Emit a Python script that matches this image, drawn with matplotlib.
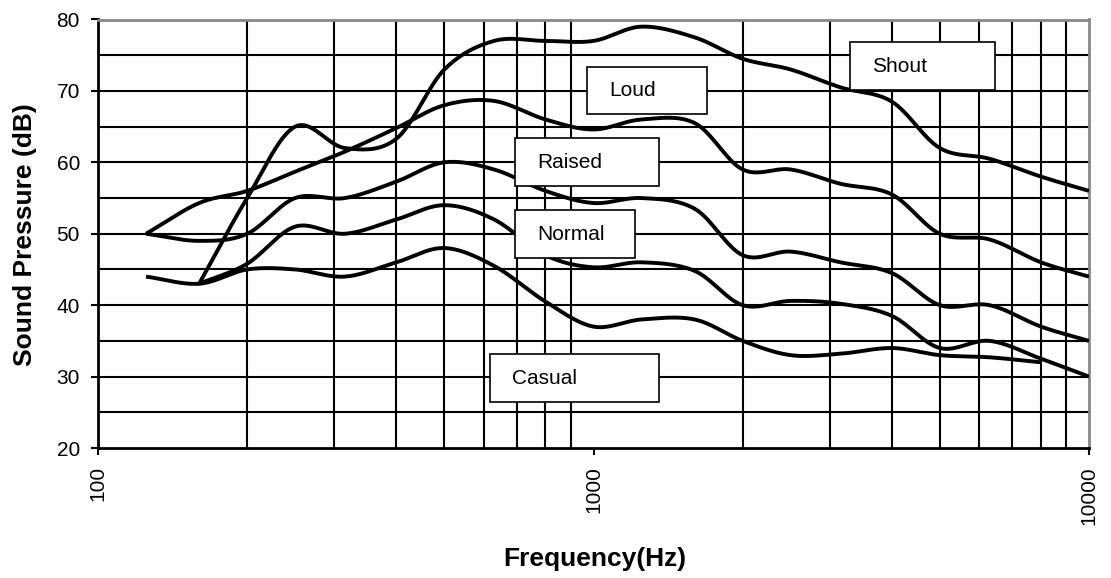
import numpy as np
import matplotlib
matplotlib.use("Agg")
import matplotlib.pyplot as plt
from matplotlib.patches import Rectangle

plt.rcParams['font.family'] = ['Liberation Sans', 'DejaVu Sans']

# ---- data ----
shout_f = [160, 200, 250, 315, 400, 500, 630, 800, 1000, 1250, 1600, 2000, 2500, 3150, 4000, 5000, 6300, 8000, 10000]
shout_db = [43, 55, 65, 62, 63.3, 73, 77, 77, 77, 79, 77.5, 74.5, 73, 70.5, 68.5, 62, 60.5, 58, 56]

loud_f = [125, 160, 200, 250, 315, 400, 500, 630, 800, 1000, 1250, 1600, 2000, 2500, 3150, 4000, 5000, 6300, 8000, 10000]
loud_db = [50, 54.3, 56, 58.7, 61.5, 64.8, 68, 68.6, 66, 64.6, 66, 65.5, 59, 59, 57, 55.5, 50, 49.2, 46, 44]

raised_f = [125, 160, 200, 250, 315, 400, 500, 630, 800, 1000, 1250, 1600, 2000, 2500, 3150, 4000, 5000, 6300, 8000, 10000]
raised_db = [50, 49, 50, 55, 55, 57.3, 60, 59, 56, 54.3, 55, 53.5, 47, 47.5, 46, 44.5, 40, 40, 37, 35]

normal_f = [160, 200, 250, 315, 400, 500, 630, 800, 1000, 1250, 1600, 2000, 2500, 3150, 4000, 5000, 6300, 8000, 10000]
normal_db = [43, 45.8, 51, 50, 52, 54, 52, 47, 45.3, 46, 44.8, 40, 40.6, 40.2, 38.5, 34, 35, 32.5, 30]

casual_f = [125, 160, 200, 250, 315, 400, 500, 630, 800, 1000, 1250, 1600, 2000, 2500, 3150, 4000, 5000, 6300, 8000]
casual_db = [44, 43, 45, 45, 44, 46, 48, 45.5, 40.5, 37, 38, 38, 35, 33, 33.2, 34, 33, 32.7, 32]

label_names = ["Shout", "Loud", "Raised", "Normal", "Casual"]
x_ticks = [100, 1000, 10000]
y_ticks = [20, 30, 40, 50, 60, 70, 80]

W, H = 1111, 578
fig = plt.figure(figsize=(W / 100, H / 100), dpi=100)
ax = fig.add_axes([98 / W, 1 - 448 / H, (1089 - 98) / W, (448 - 19.5) / H])


def smooth(fs, ys, n=20):
    """Catmull-Rom smoothing of the drawn line in (log f, dB) space."""
    x = np.log10(np.asarray(fs, float))
    y = np.asarray(ys, float)
    P = np.column_stack([x, y])
    P = np.vstack([P[0] - (P[1] - P[0]), P, P[-1] + (P[-1] - P[-2])])
    out = []
    for i in range(1, len(P) - 2):
        p0, p1, p2, p3 = P[i - 1], P[i], P[i + 1], P[i + 2]
        t = np.linspace(0, 1, n, endpoint=False)[:, None]
        seg = 0.5 * ((2 * p1) + (-p0 + p2) * t + (2 * p0 - 5 * p1 + 4 * p2 - p3) * t ** 2
                     + (-p0 + 3 * p1 - 3 * p2 + p3) * t ** 3)
        out.append(seg)
    out.append(P[-2][None, :])
    out = np.vstack(out)
    return 10 ** out[:, 0], out[:, 1]


for fs, ys in [(shout_f, shout_db), (loud_f, loud_db), (raised_f, raised_db),
               (normal_f, normal_db), (casual_f, casual_db)]:
    xs, yv = smooth(fs, ys)
    ax.plot(xs, yv, color='black', lw=2.8, solid_capstyle='butt', zorder=3)

ax.set_xscale('log')
ax.set_xlim(100, 10000)
ax.set_ylim(20, 80)

# grid
minor_x = [m * 10 ** e for e in (2, 3) for m in range(2, 10)]
for xv in minor_x:
    ax.axvline(xv, color='black', lw=1.5, zorder=1)
for yv in np.arange(25, 80, 5):
    ax.axhline(yv, color='black', lw=1.5, zorder=1)

ax.set_xticks(x_ticks)
ax.set_xticklabels([str(v) for v in x_ticks], rotation=90, fontsize=15)
ax.xaxis.set_minor_locator(matplotlib.ticker.NullLocator())
ax.set_yticks(y_ticks)
ax.set_yticklabels([str(v) for v in y_ticks], fontsize=15)
ax.tick_params(axis='both', direction='out', length=5, width=1.5, color='black', pad=8)

for s in ['left', 'bottom']:
    ax.spines[s].set_color('black')
    ax.spines[s].set_linewidth(2)
for s in ['top', 'right']:
    ax.spines[s].set_color('#888888')
    ax.spines[s].set_linewidth(2)

fig.text(595 / W, 1 - 559 / H, 'Frequency(Hz)', fontsize=19, fontweight='bold',
         ha='center', va='center')
fig.text(25 / W, 1 - 235 / H, 'Sound Pressure (dB)', fontsize=19, fontweight='bold',
         ha='center', va='center', rotation=90)

# label boxes (pixel positions: left, top, right, bottom)
boxes = [(850, 42, 995, 90), (587, 67, 707, 114), (515, 138, 659, 186),
         (515, 210, 635, 258), (490, 354, 659, 402)]
for name, (l, t, r, b) in zip(label_names, boxes):
    rect = Rectangle((l / W, 1 - b / H), (r - l) / W, (b - t) / H,
                     transform=fig.transFigure, facecolor='white',
                     edgecolor='black', lw=1.2, zorder=5)
    fig.patches.append(rect)
    fig.text((l + 22) / W, 1 - ((t + b) / 2) / H, name, fontsize=15,
             ha='left', va='center', zorder=6)

fig.savefig('out.png', dpi=100)
